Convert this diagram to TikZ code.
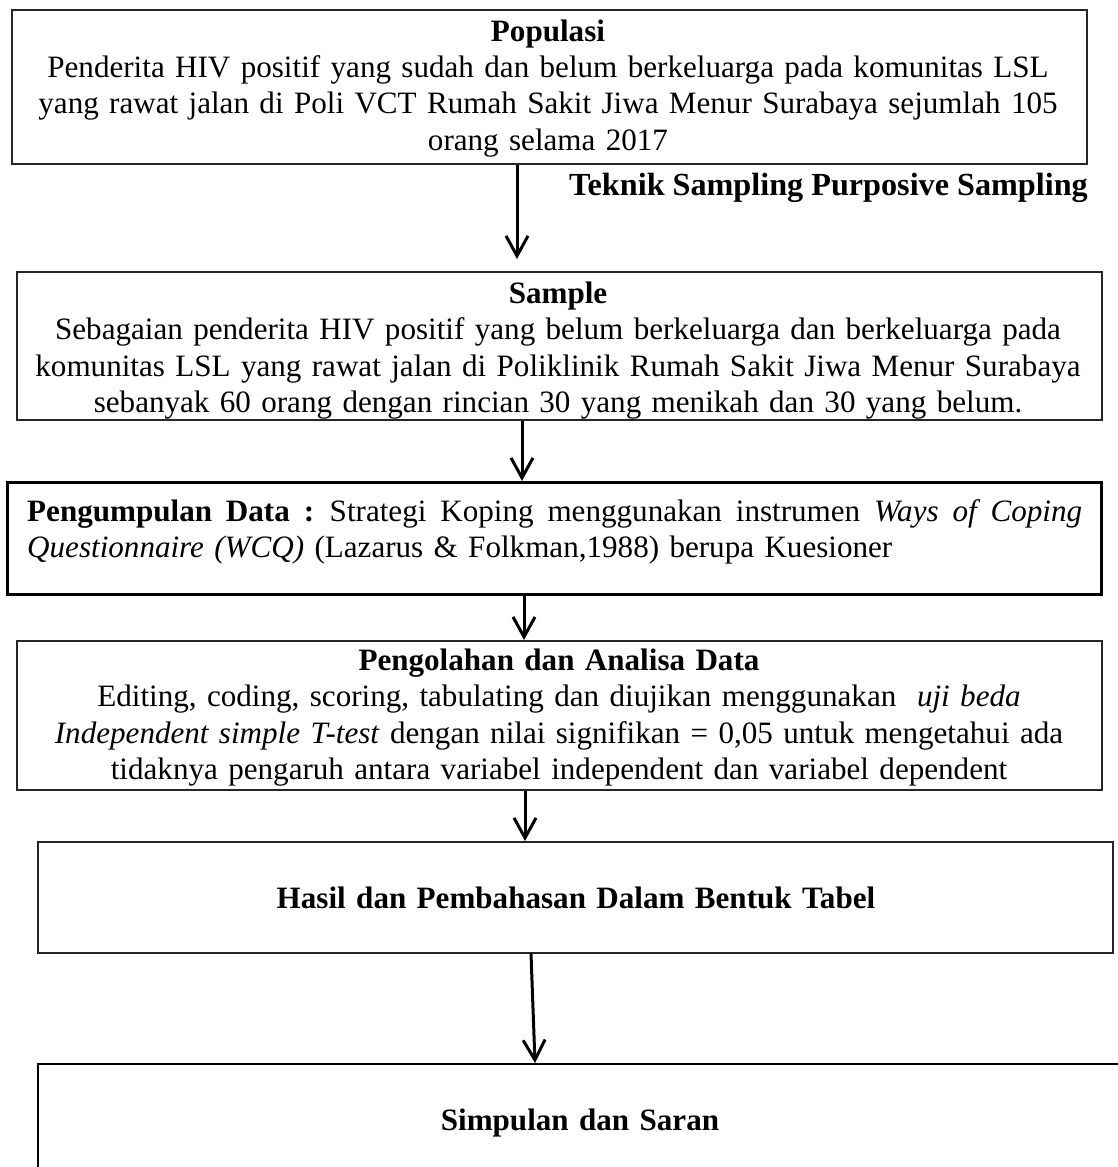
\documentclass[tikz,border=0pt]{standalone}
\usepackage{fontspec}
\setmainfont{Liberation Serif}
\usetikzlibrary{arrows.meta}
\newcommand\fs{\fontsize{31.1pt}{36.5pt}\selectfont}
\tikzset{
  box/.style={draw=black!85, line width=1.5pt, inner sep=0pt, anchor=north west},
  boxthick/.style={draw=black, line width=2.6pt, inner sep=0pt, anchor=north west},
  txt/.style={inner sep=0pt, text width=1100pt, align=center, font=\fs, anchor=base},
  arr/.style={line width=3pt, -{Straight Barb[length=20pt,width=22pt]}}
}
\begin{document}
\begin{tikzpicture}[x=1pt,y=-1pt]
\clip (0,0) rectangle (1118,1167);
\fill[white] (0,0) rectangle (1118,1167);
% boxes
\node[box, minimum width=1075pt, minimum height=154pt] (b1) at (11,9) {};
\node[box, minimum width=1085pt, minimum height=148pt] (b2) at (16,271) {};
\node[boxthick, minimum width=1094pt, minimum height=112pt] (b3) at (6,481) {};
\node[box, minimum width=1085pt, minimum height=149pt] (b4) at (16,640) {};
\node[box, minimum width=1075pt, minimum height=111pt] (b5) at (37,841) {};
\node[box, draw=black, line width=2pt, minimum width=1200pt, minimum height=300pt] (b6) at (37,1063) {};
% texts
\node[txt] (t1) at (548,41) {\textbf{Populasi}\\
Penderita HIV positif yang sudah dan belum berkeluarga pada komunitas LSL\\
yang rawat jalan di Poli VCT Rumah Sakit Jiwa Menur Surabaya sejumlah 105\\
orang selama 2017};
\node[font=\fontsize{32.2pt}{36.5pt}\selectfont\bfseries, inner sep=0pt, anchor=base east] (tk) at (1088,195) {Teknik Sampling Purposive Sampling};
\node[txt] (t2) at (558,303) {\textbf{Sample}\\
Sebagaian penderita HIV positif yang belum berkeluarga dan berkeluarga pada\\
komunitas LSL yang rawat jalan di Poliklinik Rumah Sakit Jiwa Menur Surabaya\\
sebanyak 60 orang dengan rincian 30 yang menikah dan 30 yang belum.};
\node[inner sep=0pt, text width=1055pt, align=left, font=\fs, anchor=base west] (t3) at (27,521) {\hbox to 1055pt{\spaceskip=7.8pt plus 1fil\relax\textbf{Pengumpulan Data :} Strategi Koping menggunakan instrumen \textit{Ways of Coping}}\\
\textit{Questionnaire (WCQ)} (Lazarus \& Folkman,1988) berupa Kuesioner};
\node[txt] (t4) at (559,670) {\textbf{Pengolahan dan Analisa Data}\\
Editing, coding, scoring, tabulating dan diujikan menggunakan \ \textit{uji beda}\\
\textit{Independent simple T-test} dengan nilai signifikan = 0,05 untuk mengetahui ada\\
tidaknya pengaruh antara variabel independent dan variabel dependent};
\node[txt] (t5) at (576,908) {\textbf{Hasil dan Pembahasan Dalam Bentuk Tabel}};
\node[txt] (t6) at (580,1130) {\textbf{Simpulan dan Saran}};
% arrows
\coordinate (x1) at (517,0);
\coordinate (x2) at (522,0);
\coordinate (x3) at (524,0);
\coordinate (x4) at (525,0);
\coordinate (x5a) at (531,0);
\coordinate (x5b) at (535,0);
\draw[arr, shorten >=12pt] (b1.south -| x1) -- (b2.north -| x1);
\draw[arr] (b2.south -| x2) -- (b3.north -| x2);
\draw[arr] (b3.south -| x3) -- (b4.north -| x3);
\draw[arr] (b4.south -| x4) -- (b5.north -| x4);
\draw[arr] (b5.south -| x5a) -- (b6.north -| x5b);
\end{tikzpicture}
\end{document}
